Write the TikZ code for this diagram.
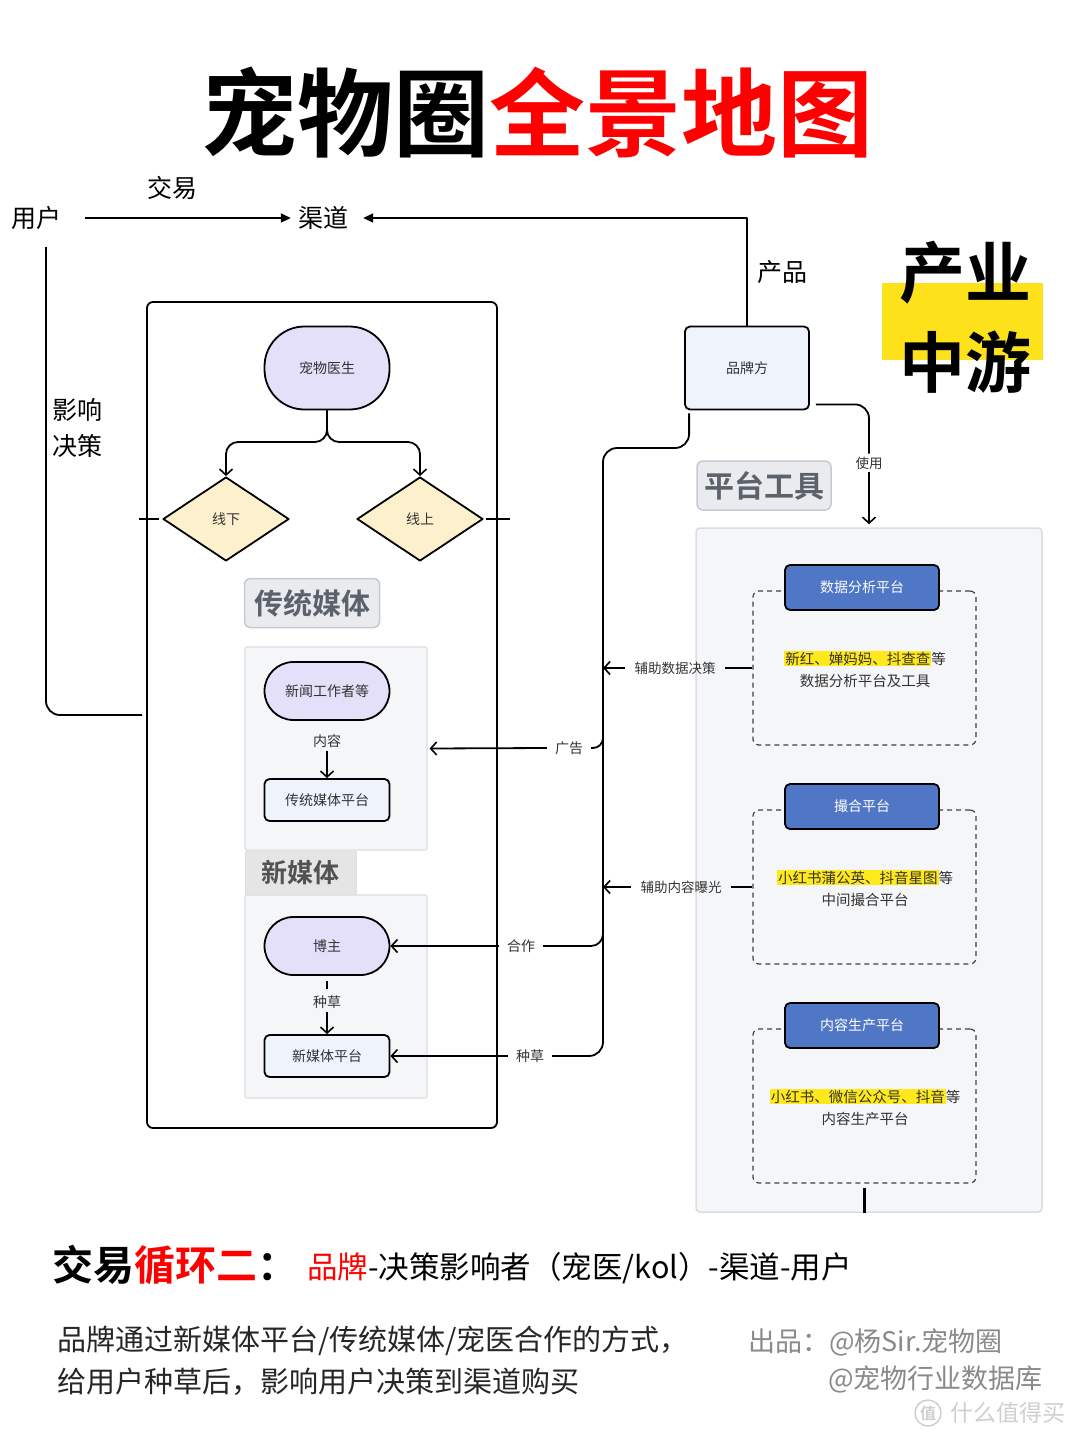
\documentclass[tikz,border=0pt]{standalone}
\usepackage{fontspec}
\setmainfont{Noto Sans CJK SC}[BoldFont={Noto Sans CJK SC Bold}]
\usetikzlibrary{arrows.meta,shapes.geometric,calc}
\definecolor{lav}{HTML}{E5E0FA}
\definecolor{dia}{HTML}{FDF1CD}
\definecolor{platc}{HTML}{EEF3FC}
\definecolor{grpf}{HTML}{F5F6F8}
\definecolor{grpd}{HTML}{DADDE1}
\definecolor{tagf}{HTML}{E9EBEE}
\definecolor{tagd}{HTML}{C7CBD1}
\definecolor{tagt}{HTML}{5B626C}
\definecolor{bluec}{HTML}{5077C6}
\definecolor{hly}{HTML}{FFE91A}
\definecolor{bigy}{HTML}{FDE11B}
\definecolor{txt}{HTML}{333333}
\definecolor{credit}{HTML}{8A8A8A}
\definecolor{wm}{HTML}{CFCFCF}
\definecolor{redc}{HTML}{FF0000}
\newcommand\hlt[1]{{\setlength{\fboxsep}{1pt}\colorbox{hly}{#1}}}
\begin{document}
\begin{tikzpicture}[x=1pt,y=-1pt,line join=round,
  ln/.style={line width=1.8pt,black},
  tip/.style={-{Straight Barb[length=6pt,width=13pt,line width=1.6pt]}},
  ftip/.style={-{Triangle[length=10pt,width=9pt]}},
  lbl/.style={font=\fontsize{25}{30}\selectfont,inner sep=3pt},
  sm/.style={font=\fontsize{14}{17}\selectfont,text=txt,inner sep=3pt},
  stad/.style={draw,line width=1.8pt,fill=lav,font=\fontsize{14}{17}\selectfont,text=txt,minimum width=125,inner sep=0pt},
  plat/.style={draw,line width=1.8pt,fill=platc,rounded corners=5,font=\fontsize{14}{17}\selectfont,text=txt,minimum width=125,minimum height=42,inner sep=0pt},
  dmd/.style={diamond,draw,line width=1.8pt,fill=dia,aspect=1.5,minimum width=126,minimum height=84,inner sep=0pt,font=\fontsize{14}{17}\selectfont,text=txt},
  grp/.style={draw=grpd,line width=1.2pt,fill=grpf,rounded corners=2},
  tagbox/.style={draw=tagd,line width=1.5pt,fill=tagf,rounded corners=6,text=tagt,font=\fontsize{29}{34}\selectfont\bfseries,inner sep=0pt},
  bluebox/.style={draw,line width=1.8pt,fill=bluec,rounded corners=5,text=white,font=\fontsize{14}{17}\selectfont,minimum width=154,minimum height=45,inner sep=0pt},
  dbox/.style={draw=black!75,line width=1.2pt,dash pattern=on 5pt off 4pt,rounded corners=6,minimum width=223,minimum height=154,inner sep=0pt},
  desc/.style={font=\fontsize{14.5}{22}\selectfont,text=txt,align=center,inner sep=0pt},
  side/.style={font=\fontsize{13.5}{16}\selectfont,text=txt,inner xsep=9pt,inner ysep=2pt}
]
\useasboundingbox (0,0) rectangle (1080,1440);
\fill[white] (0,0) rectangle (1080,1440);

% title
\node[font=\fontsize{96}{100}\selectfont\bfseries,inner sep=0pt] (title) at (537,113) {宠物圈\textcolor{redc}{全景地图}};

% top row
\node[lbl] (user) at (37,218) {用户};
\node[lbl] (chan) at (323,218) {渠道};
\node[lbl] (trade) at (172,188) {交易};
\draw[ln,ftip,shorten <=20pt,shorten >=4pt] (user.east) -- (chan.west);

% brand
\node[plat,minimum width=124,minimum height=83] (brand) at (747,368) {品牌方};
\draw[ln,ftip,shorten >=12pt] (brand.north) |- (chan.east);
\node[lbl] (prod) at (782,272) {产品};

% industry label
\fill[bigy] (882,283) rectangle (1043,360);
\node[font=\fontsize{66}{70}\selectfont\bfseries,inner sep=0pt] (ind1) at (965,273) {产业};
\node[font=\fontsize{66}{70}\selectfont\bfseries,inner sep=0pt] (ind2) at (965,362) {中游};

% big box
\node[draw,line width=1.8pt,rounded corners=6,minimum width=350,minimum height=826,inner sep=0pt] (bigbox) at (322,715) {};

% user influence line
\coordinate (ustart) at (46,247);
\coordinate (uend) at (142,715);
\draw[ln,rounded corners=14] (ustart) |- (uend);
\node[lbl,align=left,anchor=north west,font=\fontsize{25}{36}\selectfont,inner sep=0pt] (infl) at (52,398) {影响\\决策};

% doctor
\node[stad,minimum height=83,rounded corners=40] (doc) at (327,368) {宠物医生};
\node[dmd] (off) at (226,519) {线下};
\node[dmd] (on) at (420,519) {线上};
\draw[ln,tip,rounded corners=12] (doc.south) -- (327,442) -| (off.north);
\draw[ln,tip,rounded corners=12] (doc.south) -- (327,442) -| (on.north);
\draw[ln] ($(off.west)+(-23,0)$) -- ($(off.west)+(-3,0)$);
\draw[ln] ($(on.east)+(2,0)$) -- ($(on.east)+(26,0)$);

% traditional media
\node[tagbox,minimum width=135,minimum height=49] (tradtag) at (312,603) {传统媒体};
\node[grp,minimum width=182,minimum height=203,inner sep=0pt] (tradgrp) at (336,748.5) {};
\node[stad,minimum height=58,rounded corners=29] (jour) at (327,691) {新闻工作者等};
\node[sm] (nr) at (327,741) {内容};
\node[plat] (tradplat) at (327,800) {传统媒体平台};
\draw[ln,tip] (nr.south) -- (tradplat.north);

% new media
\node[draw=black!12,fill=black!10,line width=1pt,minimum width=111,minimum height=44,inner sep=0pt,text=black!68,font=\fontsize{26}{30}\selectfont\bfseries] (newtag) at (300.5,873) {新媒体};
\node[grp,minimum width=182,minimum height=203,inner sep=0pt] (newgrp) at (336,996.5) {};
\node[stad,minimum height=58,rounded corners=29] (blog) at (327,946) {博主};
\draw[ln] ($(blog.south)+(0,5)$) -- ($(blog.south)+(0,13)$);
\node[sm] (zc1) at (327,1002) {种草};
\node[plat] (newplat) at (327,1056) {新媒体平台};
\draw[ln,tip] (zc1.south) -- (newplat.north);

% right connectors from brand
\coordinate (vtop) at (603,448);
\node[sm,inner xsep=8pt] (zc2) at (530,1056) {种草};
\node[sm,inner xsep=8pt] (hz) at (521,946) {合作};
\node[sm,inner xsep=8pt] (gg) at (569,748) {广告};
\draw[ln,rounded corners=14] ($(brand.south west)+(5,3)$) |- (vtop) -- (603,1056) -- (zc2.east);
\draw[ln,tip] (zc2.west) -- (newplat.east);
\draw[ln,rounded corners=12] (603,925) -- (603,946) -- (hz.east);
\draw[ln,tip] (hz.west) -- (blog.east);
\draw[ln,rounded corners=10] (603,733) -- (603,748) -- (gg.east);
\draw[ln,tip,shorten >=2pt] (gg.west) -- (tradgrp.east);

% platform tools
\node[tagbox,font=\fontsize{30}{34}\selectfont\bfseries,minimum width=134,minimum height=49] (tooltag) at (764,485.5) {平台工具};
\node[draw=grpd,line width=1.5pt,fill=grpf,rounded corners=4,minimum width=346,minimum height=684,inner sep=0pt] (panel) at (869,870) {};
\node[sm,font=\fontsize{13.5}{16}\selectfont] (use) at (869,463) {使用};
\draw[ln,rounded corners=14] ($(brand.south east)+(6,-6)$) -| (use.north);
\draw[ln,tip,shorten >=3pt] (use.south) -- (use.south |- panel.north);

% section 1
\node[dbox] (d1) at (864.5,668) {};
\node[bluebox] (b1) at (862,587.5) {数据分析平台};
\node[desc] (t1) at (865,669) {\hlt{新红、婵妈妈、抖查查}等\\数据分析平台及工具};
% section 2
\node[dbox] (d2) at (864.5,887) {};
\node[bluebox] (b2) at (862,806.5) {撮合平台};
\node[desc] (t2) at (865,888) {\hlt{小红书蒲公英、抖音星图}等\\中间撮合平台};
% section 3
\node[dbox] (d3) at (864.5,1106) {};
\node[bluebox] (b3) at (862,1025.5) {内容生产平台};
\node[desc] (t3) at (865,1107) {\hlt{小红书、微信公众号、抖音}等\\内容生产平台};
\draw[line width=2.2pt,black,shorten <=4pt] (d3.south) -- (d3.south |- panel.south);

% side labels
\node[side] (fz1) at (675,668) {辅助数据决策};
\node[side] (fz2) at (681,887) {辅助内容曝光};
\draw[ln] (d1.west |- fz1) -- (fz1.east);
\draw[ln,tip] (fz1.west) -- (fz1.west -| vtop);
\draw[ln] (d2.west |- fz2) -- (fz2.east);
\draw[ln,tip] (fz2.west) -- (fz2.west -| vtop);

% bottom text
\node[anchor=west,inner sep=0pt,font=\fontsize{41}{46}\selectfont\bfseries] (loop) at (52,1265) {交易\textcolor{redc}{循环二}：};
\node[anchor=west,inner sep=0pt,font=\fontsize{30.5}{34}\selectfont] (chain) at (307,1268) {\textcolor{redc}{品牌}-决策影响者（宠医/kol）-渠道-用户};
\node[anchor=north west,inner sep=0pt,align=left,font=\fontsize{29}{42}\selectfont,text=black!85] (para) at (57,1326) {品牌通过新媒体平台/传统媒体/宠医合作的方式，\\给用户种草后，影响用户决策到渠道购买};
\node[anchor=west,inner sep=0pt,font=\fontsize{27}{32}\selectfont,text=credit] (cr1) at (748,1342) {出品：@杨Sir.宠物圈};
\node[anchor=east,inner sep=0pt,font=\fontsize{27}{32}\selectfont,text=credit] (cr2) at (1043,1379) {@宠物行业数据库};
\node[draw=wm,line width=1.5pt,circle,minimum size=26,inner sep=0pt,text=wm,font=\fontsize{16}{18}\selectfont\bfseries] (wmlogo) at (928,1413) {值};
\node[anchor=west,inner sep=0pt,font=\fontsize{23}{26}\selectfont,text=wm] (wmtext) at (950,1413) {什么值得买};
\end{tikzpicture}
\end{document}
